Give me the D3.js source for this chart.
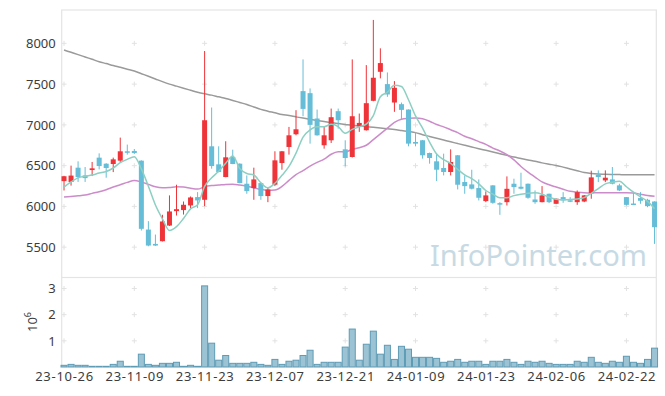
<!DOCTYPE html>
<html>
<head>
<meta charset="utf-8">
<script src="https://cdn.jsdelivr.net/npm/d3@7"></script>
<style>
  html, body { margin: 0; padding: 0; background: #fff; }
  #container { width: 665px; height: 396px; }
  text { font-family: "Noto Sans", "DejaVu Sans", sans-serif; }
</style>
</head>
<body>
<div id="container"></div>
<script>
//### DATA ###
// Trading days (categories)
const dates = [
  '23-10-26','23-10-27','23-10-30','23-10-31','23-11-01','23-11-02','23-11-03','23-11-06','23-11-07','23-11-08',
  '23-11-09','23-11-10','23-11-13','23-11-14','23-11-15','23-11-16','23-11-17','23-11-20','23-11-21','23-11-22',
  '23-11-23','23-11-24','23-11-27','23-11-28','23-11-29','23-11-30','23-12-01','23-12-04','23-12-05','23-12-06',
  '23-12-07','23-12-08','23-12-11','23-12-12','23-12-13','23-12-14','23-12-15','23-12-18','23-12-19','23-12-20',
  '23-12-21','23-12-22','23-12-26','23-12-27','23-12-28','24-01-02','24-01-03','24-01-04','24-01-05','24-01-08',
  '24-01-09','24-01-10','24-01-11','24-01-12','24-01-15','24-01-16','24-01-17','24-01-18','24-01-19','24-01-22',
  '24-01-23','24-01-24','24-01-25','24-01-26','24-01-29','24-01-30','24-01-31','24-02-01','24-02-02','24-02-05',
  '24-02-06','24-02-07','24-02-08','24-02-13','24-02-14','24-02-15','24-02-16','24-02-19','24-02-20','24-02-21',
  '24-02-22','24-02-23','24-02-26','24-02-27','24-02-28'
];

const open = [
  6310,6300,6475,6380,6446,6598,6524,6520,6561,6676,
  6680,6561,5716,5540,5573,5765,5942,5955,6012,6114,
  6081,6737,6516,6360,6606,6524,6278,6225,6286,6127,
  6266,6532,6729,6885,7414,7389,7078,6750,6811,7168,
  6700,6606,6983,6934,7295,7651,7500,7274,7254,7188,
  6790,6811,6655,6553,6471,6422,6627,6299,6270,6225,
  6065,6258,6040,6052,6278,6241,6278,6085,6052,6155,
  6032,6114,6075,6052,6060,6163,6389,6319,6331,6258,
  6114,6035,6102,6081,6060
];
const high = [
  6375,6500,6553,6483,6545,6651,6530,6598,6844,6758,
  6704,6565,5819,5655,5897,6135,6266,6060,6122,6175,
  7906,7213,6737,6799,6696,6528,6380,6475,6290,6225,
  6676,6680,6975,7180,7803,7447,7188,6975,7200,7200,
  6811,7803,7139,7733,8287,7939,7643,7537,7274,7190,
  6913,6815,6660,6647,6647,6700,6630,6380,6450,6331,
  6184,6260,6052,6368,6340,6413,6280,6196,6249,6157,
  6097,6175,6114,6196,6140,6438,6442,6442,6483,6278,
  6115,6175,6175,6093,6062
];
const low = [
  6195,6255,6300,6300,6372,6454,6352,6421,6540,6635,
  6643,5704,5511,5515,5570,5760,5888,5900,5979,5979,
  6003,6463,6418,6358,6518,6284,6155,6081,6081,6052,
  6249,6450,6635,6872,7106,6770,6868,6708,6778,6954,
  6491,6600,6914,6930,7290,7570,7344,7160,7061,6737,
  6737,6586,6524,6311,6380,6380,6208,6155,6208,6073,
  6052,6032,5897,6011,6155,6208,6094,6032,6050,6040,
  6030,6044,6052,6019,6052,6094,6298,6298,6270,6188,
  6011,6019,6032,5990,5540
];
const close = [
  6370,6378,6360,6347,6467,6495,6471,6577,6676,6665,
  6655,5725,5520,5520,5815,5938,5966,6020,6110,6073,
  7057,6495,6422,6602,6520,6286,6188,6331,6127,6208,
  6565,6676,6872,6946,7196,7000,6872,6872,7094,7057,
  6594,7106,7024,7266,7578,7758,7373,7455,7184,6770,
  6770,6627,6594,6450,6422,6545,6266,6249,6217,6106,
  6135,6044,6030,6216,6237,6217,6106,6052,6135,6052,
  6094,6073,6065,6175,6135,6356,6360,6352,6278,6196,
  6019,6025,6069,6003,5745
];
const volume = [
  64000,100000,64000,64000,26000,26000,26000,100000,220000,26000,
  26000,490000,100000,64000,140000,140000,180000,26000,64000,26000,
  3100000,910000,260000,440000,140000,140000,140000,180000,100000,64000,
  290000,100000,220000,260000,440000,640000,100000,180000,180000,180000,
  760000,1450000,260000,870000,1370000,490000,830000,290000,790000,680000,
  370000,370000,370000,330000,180000,220000,290000,180000,220000,220000,
  100000,220000,220000,290000,180000,100000,220000,180000,220000,140000,
  100000,100000,100000,220000,180000,370000,180000,140000,220000,180000,
  410000,180000,140000,290000,720000
];

// Moving average lines
const maShort = [
  6237,6300,6350,6370,6384,6409,6428,6471,6537,6577,
  6609,6460,6248,6017,5847,5704,5752,5852,5970,6021,
  6245,6351,6431,6530,6619,6465,6404,6385,6290,6228,
  6284,6381,6490,6653,6851,6938,6977,6977,7007,6979,
  6898,6945,6975,7009,7114,7346,7400,7486,7470,7308,
  7110,6961,6789,6642,6573,6528,6455,6386,6340,6277,
  6195,6150,6106,6106,6132,6149,6161,6166,6149,6112,
  6088,6081,6084,6092,6108,6161,6218,6276,6296,6308,
  6241,6174,6117,6062,5972
];
const maMid = [
  6114,6122,6130,6140,6160,6180,6205,6237,6265,6295,
  6318,6300,6270,6240,6228,6232,6240,6238,6222,6212,
  6240,6255,6262,6270,6272,6262,6250,6225,6210,6195,
  6200,6245,6320,6390,6440,6495,6540,6580,6640,6670,
  6668,6700,6720,6750,6820,6890,6960,7030,7070,7080,
  7085,7075,7045,7005,6975,6940,6905,6860,6830,6795,
  6760,6715,6680,6635,6570,6490,6420,6360,6300,6265,
  6237,6210,6185,6175,6168,6165,6167,6167,6168,6167,
  6167,6163,6150,6135,6125
];
const maLong = [
  7918,7890,7862,7833,7804,7775,7752,7728,7706,7683,
  7660,7628,7596,7563,7530,7500,7475,7450,7425,7400,
  7381,7365,7344,7324,7300,7275,7250,7220,7190,7168,
  7148,7127,7115,7098,7083,7069,7055,7042,7028,7017,
  7006,6995,6987,6979,6971,6962,6952,6942,6930,6918,
  6905,6880,6858,6836,6814,6792,6771,6750,6729,6708,
  6688,6668,6647,6626,6605,6588,6570,6553,6534,6518,
  6503,6482,6460,6438,6415,6405,6398,6393,6391,6390,
  6389,6389,6389,6388,6388
];

const priceTicks = [5500, 6000, 6500, 7000, 7500, 8000];
const volumeTicks = [1, 2, 3];
const dateTickIndex = [0, 10, 20, 30, 40, 50, 60, 70, 80];

//### CREATE THE VISUALIZATION ###
function createVisualization () {
  //_____ VARIABLES _____
  const W = 665, H = 396;
  const left = 61.7, right = 656.3;
  const priceTop = 10, priceBottom = 277.5;
  const volTop = 277.5, volBottom = 367;
  const upColor = '#ee3339';
  const downColor = '#65bdd7';
  const gridColor = '#e2e2e2';
  const axisColor = '#e4e4e4';
  const textColor = '#3c3c3c';

  const data = dates.map( ( d, i ) => ( {
    i, date: d, open: open[ i ], high: high[ i ], low: low[ i ], close: close[ i ], volume: volume[ i ]
  } ) );

  //_____ SCALES _____
  const x = d3.scaleLinear().domain( [ -0.33, dates.length - 1 + 0.25 ] ).range( [ left, right ] );
  const yPrice = d3.scaleLinear().domain( [ 5128, 8409 ] ).range( [ priceBottom, priceTop ] );
  const yVol = d3.scaleLinear().domain( [ 0, 3.42 ] ).range( [ volBottom, volTop ] );
  const step = x( 1 ) - x( 0 );

  //_____ SVG _____
  const svg = d3.select( '#container' ).append( 'svg' )
    .attr( 'width', W )
    .attr( 'height', H );

  //_____ GRID (+ markers) _____
  const cross = ( g, cx, cy ) => {
    g.append( 'line' ).attr( 'x1', cx - 2.5 ).attr( 'x2', cx + 2.5 ).attr( 'y1', cy ).attr( 'y2', cy );
    g.append( 'line' ).attr( 'x1', cx ).attr( 'x2', cx ).attr( 'y1', cy - 2.5 ).attr( 'y2', cy + 2.5 );
  };
  const grid = svg.append( 'g' ).attr( 'stroke', gridColor ).attr( 'stroke-width', 1 );
  dateTickIndex.forEach( t => {
    priceTicks.forEach( p => cross( grid, x( t ), yPrice( p ) ) );
    volumeTicks.forEach( v => cross( grid, x( t ), yVol( v ) ) );
  } );

  //_____ FRAME _____
  const frame = svg.append( 'g' ).attr( 'stroke', axisColor ).attr( 'fill', 'none' ).attr( 'stroke-width', 1.2 );
  frame.append( 'rect' )
    .attr( 'x', left ).attr( 'y', priceTop )
    .attr( 'width', right - left ).attr( 'height', priceBottom - priceTop );
  frame.append( 'line' ).attr( 'x1', left ).attr( 'x2', left ).attr( 'y1', volTop ).attr( 'y2', volBottom );
  frame.append( 'line' ).attr( 'x1', right ).attr( 'x2', right ).attr( 'y1', volTop ).attr( 'y2', volBottom );

  //_____ WATERMARK _____
  svg.append( 'text' )
    .attr( 'x', 430 )
    .attr( 'y', 266 )
    .attr( 'textLength', 217 )
    .attr( 'lengthAdjust', 'spacingAndGlyphs' )
    .style( 'font-size', '29px' )
    .style( 'fill', '#c7dae4' )
    .text( 'InfoPointer.com' );

  //_____ MOVING AVERAGES _____
  const lineFor = arr => d3.line()
    .x( ( d, i ) => x( i ) )
    .y( d => yPrice( d ) )
    .curve( d3.curveMonotoneX )( arr );

  svg.append( 'path' ).attr( 'd', lineFor( maLong ) )
    .attr( 'fill', 'none' ).attr( 'stroke', '#9a9a9a' ).attr( 'stroke-width', 1.5 );
  svg.append( 'path' ).attr( 'd', lineFor( maMid ) )
    .attr( 'fill', 'none' ).attr( 'stroke', '#cc8cc9' ).attr( 'stroke-width', 1.5 );

  //_____ CANDLES _____
  const candles = svg.append( 'g' ).selectAll( 'g' )
    .data( data )
    .enter()
    .append( 'g' )
    .attr( 'fill', d => d.close >= d.open ? upColor : downColor )
    .attr( 'stroke', d => d.close >= d.open ? upColor : downColor );

  candles.append( 'line' )
    .attr( 'x1', d => x( d.i ) ).attr( 'x2', d => x( d.i ) )
    .attr( 'y1', d => yPrice( d.high ) ).attr( 'y2', d => yPrice( d.low ) )
    .attr( 'stroke-width', 1 );

  candles.append( 'rect' )
    .attr( 'x', d => x( d.i ) - 2.5 )
    .attr( 'width', 5 )
    .attr( 'y', d => yPrice( Math.max( d.open, d.close ) ) )
    .attr( 'height', d => Math.max( 1.5, Math.abs( yPrice( d.open ) - yPrice( d.close ) ) ) )
    .attr( 'stroke', 'none' );

  svg.append( 'path' ).attr( 'd', lineFor( maShort ) )
    .attr( 'fill', 'none' ).attr( 'stroke', '#8dcfc2' ).attr( 'stroke-width', 1.5 );

  //_____ VOLUME BARS _____
  svg.append( 'g' ).selectAll( 'rect' )
    .data( data )
    .enter()
    .append( 'rect' )
    .attr( 'x', d => x( d.i ) - step / 2 + 0.5 )
    .attr( 'width', step - 1 )
    .attr( 'y', d => yVol( d.volume / 1e6 ) )
    .attr( 'height', d => volBottom - yVol( d.volume / 1e6 ) )
    .attr( 'fill', '#9cc3d3' )
    .attr( 'stroke', '#5e9bb5' )
    .attr( 'stroke-width', 1 );

  //_____ AXES _____
  const yAxis = svg.append( 'g' )
    .attr( 'transform', `translate( ${left}, 0 )` )
    .call( d3.axisLeft( yPrice ).tickValues( priceTicks ).tickSize( 0 ).tickPadding( 6 ).tickFormat( d3.format( 'd' ) ) );
  const vAxis = svg.append( 'g' )
    .attr( 'transform', `translate( ${left}, 0 )` )
    .call( d3.axisLeft( yVol ).tickValues( volumeTicks ).tickSize( 0 ).tickPadding( 6 ).tickFormat( d3.format( 'd' ) ) );
  const xAxis = svg.append( 'g' )
    .attr( 'transform', `translate( 0, ${volBottom} )` )
    .call( d3.axisBottom( x ).tickValues( dateTickIndex ).tickSize( 0 ).tickPadding( 5 ).tickFormat( i => dates[ i ] ) );

  [ yAxis, vAxis, xAxis ].forEach( a => {
    a.select( '.domain' ).remove();
    a.selectAll( 'text' )
      .style( 'font-family', '"Noto Sans", sans-serif' )
      .style( 'font-size', '13px' )
      .style( 'fill', textColor );
  } );
  //>>> Reference dates are a touch wider
  xAxis.selectAll( 'text' ).style( 'letter-spacing', '0.7px' );

  //_____ VOLUME UNIT LABEL _____
  const unit = svg.append( 'text' )
    .attr( 'transform', 'translate( 37, 322 ) rotate( -90 )' )
    .attr( 'text-anchor', 'middle' )
    .style( 'font-size', '13px' )
    .style( 'fill', textColor );
  unit.append( 'tspan' ).text( '10' );
  unit.append( 'tspan' ).attr( 'dy', -6 ).style( 'font-size', '9px' ).text( '6' );
}

createVisualization();
</script>
</body>
</html>
